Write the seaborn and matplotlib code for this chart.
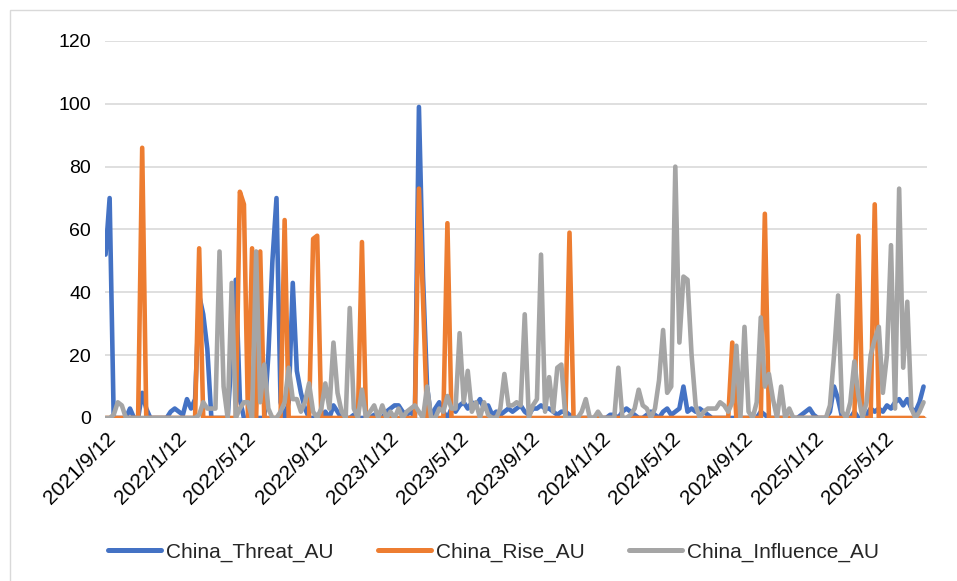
import numpy as np
import pandas as pd
import seaborn as sns
import matplotlib.pyplot as plt
from matplotlib.patches import Rectangle

# weekly series, first week 2021/9/12
start_date = "2021-09-12"

threat = [
    52, 70, 0, 0, 0, 0, 3, 0, 0, 8,
    3, 0, 0, 0, 0, 0, 2, 3, 2, 1,
    6, 3, 6, 39, 33, 22, 0, 0, 0, 0,
    0, 20, 44, 6, 0, 0, 0, 0, 0, 0,
    20, 50, 70, 5, 0, 5, 43, 15, 8, 3,
    0, 0, 1, 0, 2, 0, 4, 2, 0, 0,
    0, 1, 0, 0, 0, 0, 1, 0, 0, 2,
    3, 4, 4, 2, 1, 2, 0, 99, 45, 10,
    0, 3, 5, 2, 0, 3, 2, 4, 5, 3,
    5, 4, 6, 3, 4, 1, 2, 1, 2, 3,
    2, 3, 4, 2, 1, 3, 3, 4, 3, 3,
    2, 1, 2, 2, 1, 0, 0, 0, 0, 0,
    0, 0, 0, 0, 1, 1, 0, 2, 3, 2,
    1, 0, 0, 1, 2, 1, 0, 2, 3, 1,
    2, 3, 10, 2, 3, 2, 3, 2, 1, 0,
    0, 0, 0, 0, 0, 0, 0, 0, 0, 0,
    0, 2, 1, 0, 0, 0, 0, 0, 0, 0,
    0, 1, 2, 3, 1, 0, 0, 0, 2, 10,
    6, 0, 0, 0, 2, 0, 0, 1, 3, 2,
    3, 2, 4, 3, 5, 6, 4, 6, 3, 2,
    5, 10,
]

rise = [
    0, 0, 0, 0, 0, 0, 0, 0, 0, 86,
    0, 0, 0, 0, 0, 0, 0, 0, 0, 0,
    0, 0, 0, 54, 0, 0, 0, 0, 0, 0,
    0, 0, 0, 72, 68, 0, 54, 0, 53, 0,
    0, 0, 0, 0, 63, 0, 0, 0, 0, 0,
    0, 57, 58, 0, 0, 0, 0, 0, 0, 0,
    0, 0, 0, 56, 0, 0, 0, 0, 0, 0,
    0, 0, 0, 0, 0, 0, 0, 73, 38, 0,
    0, 0, 0, 0, 62, 0, 0, 0, 0, 0,
    0, 0, 0, 0, 0, 0, 0, 0, 0, 0,
    0, 0, 0, 0, 0, 0, 0, 0, 0, 0,
    0, 0, 0, 0, 59, 0, 0, 0, 0, 0,
    0, 0, 0, 0, 0, 0, 0, 0, 0, 0,
    0, 0, 0, 0, 0, 0, 0, 0, 0, 0,
    0, 0, 0, 0, 0, 0, 0, 0, 0, 0,
    0, 0, 0, 0, 24, 0, 0, 0, 0, 0,
    0, 0, 65, 0, 0, 0, 0, 0, 0, 0,
    0, 0, 0, 0, 0, 0, 0, 0, 0, 0,
    0, 0, 0, 0, 0, 58, 0, 0, 0, 68,
    0, 0, 0, 0, 0, 0, 0, 0, 0, 0,
    0, 0,
]

influence = [
    0, 0, 1, 5, 4, 0, 0, 0, 0, 0,
    0, 0, 0, 0, 0, 0, 0, 0, 0, 0,
    0, 0, 0, 1, 5, 3, 3, 3, 53, 10,
    0, 43, 0, 3, 5, 5, 0, 53, 5, 17,
    3, 0, 0, 2, 5, 16, 6, 6, 2, 5,
    11, 2, 0, 3, 11, 3, 24, 8, 2, 0,
    35, 3, 0, 9, 0, 2, 4, 0, 4, 0,
    2, 0, 3, 0, 2, 3, 4, 2, 0, 10,
    0, 0, 3, 2, 7, 3, 3, 27, 5, 15,
    2, 5, 0, 5, 1, 0, 0, 3, 14, 4,
    4, 5, 4, 33, 0, 4, 6, 52, 2, 13,
    2, 16, 17, 0, 0, 0, 0, 2, 6, 0,
    0, 2, 0, 0, 0, 0, 16, 0, 0, 1,
    3, 9, 4, 3, 0, 3, 12, 28, 8, 10,
    80, 24, 45, 44, 20, 4, 0, 2, 3, 3,
    3, 5, 4, 2, 5, 23, 0, 29, 2, 0,
    5, 32, 10, 14, 6, 0, 10, 0, 3, 0,
    0, 0, 0, 0, 0, 0, 0, 0, 4, 20,
    39, 2, 0, 5, 18, 7, 0, 5, 20, 25,
    29, 8, 20, 55, 3, 73, 16, 37, 3, 0,
    2, 5,
]

series_names = ["China_Threat_AU", "China_Rise_AU", "China_Influence_AU"]
colors = ["#4472C4", "#ED7D31", "#A5A5A5"]

tick_dates = ["2021-09-12", "2022-01-12", "2022-05-12", "2022-09-12",
              "2023-01-12", "2023-05-12", "2023-09-12", "2024-01-12",
              "2024-05-12", "2024-09-12", "2025-01-12", "2025-05-12"]
tick_labels = ["2021/9/12", "2022/1/12", "2022/5/12", "2022/9/12",
               "2023/1/12", "2023/5/12", "2023/9/12", "2024/1/12",
               "2024/5/12", "2024/9/12", "2025/1/12", "2025/5/12"]

dates = pd.date_range(start_date, periods=len(threat), freq="7D")
wide = pd.DataFrame({"date": dates, series_names[0]: threat,
                     series_names[1]: rise, series_names[2]: influence})
df = wide.melt(id_vars="date", var_name="series", value_name="value")

sns.set_style("white")
plt.rcParams["font.family"] = ["Liberation Sans", "DejaVu Sans"]

fig = plt.figure(figsize=(9.57, 5.81), dpi=100)
ax = fig.add_axes([0.1097, 0.2806, 0.8590, 0.6489])

sns.lineplot(data=df, x="date", y="value", hue="series", hue_order=series_names,
             palette=colors, linewidth=3.3, ax=ax,
             solid_joinstyle="round", solid_capstyle="round")

ax.set_ylim(0, 120)
ax.set_yticks(range(0, 121, 20))
ax.set_xlim(dates[0] - pd.Timedelta(days=1), dates[-1] + pd.Timedelta(days=6))
ax.set_xticks(pd.to_datetime(tick_dates))
ax.set_xticklabels(tick_labels, rotation=45, ha="right", va="top",
                   rotation_mode="anchor")
ax.tick_params(axis="both", length=0, colors="black")
ax.tick_params(axis="y", pad=10, labelsize=14)
ax.tick_params(axis="x", pad=8, labelsize=15)
ax.set_xlabel("")
ax.set_ylabel("")
ax.grid(axis="y", color="#D9D9D9", linewidth=1.2)
ax.set_axisbelow(True)
sns.despine(ax=ax, left=True, bottom=True)

sns.move_legend(ax, "center", bbox_to_anchor=(0.5157, 0.05),
                bbox_transform=fig.transFigure, ncol=3, frameon=False,
                title=None, fontsize=15, handlelength=2.55,
                handletextpad=0.25, columnspacing=2.1)
for line in ax.get_legend().get_lines():
    line.set_linewidth(3.6)

fig.patches.append(Rectangle((10 / 957, -0.1), 1.2, 0.9828 + 0.1,
                             transform=fig.transFigure, fill=False,
                             edgecolor="#D9D9D9", linewidth=1))

plt.savefig("out.png", dpi=100)
